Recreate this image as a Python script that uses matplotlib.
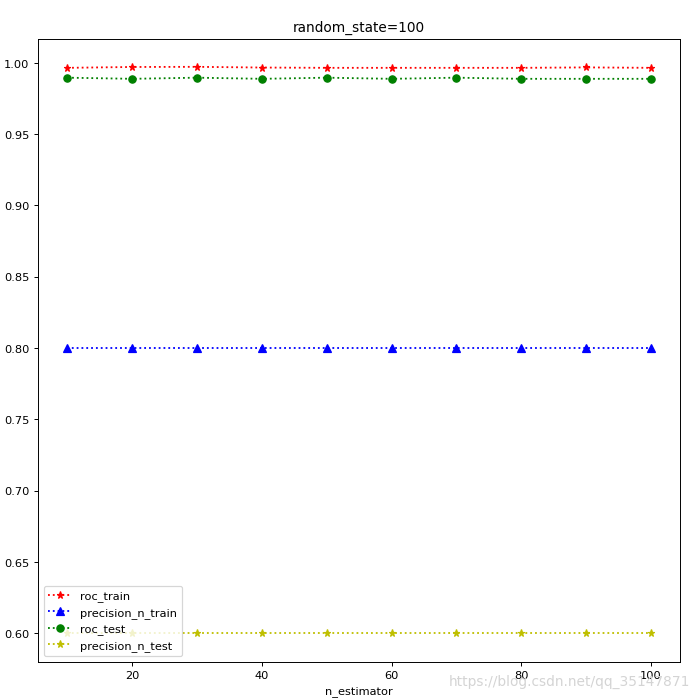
import matplotlib.pyplot as plt

n_estimator = [10, 20, 30, 40, 50, 60, 70, 80, 90, 100]
roc_train = [0.9963, 0.9969, 0.9970, 0.9965, 0.9963, 0.9963, 0.9963, 0.9963, 0.9966, 0.9963]
precision_n_train = [0.80, 0.80, 0.80, 0.80, 0.80, 0.80, 0.80, 0.80, 0.80, 0.80]
roc_test = [0.9894, 0.9886, 0.9894, 0.9886, 0.9894, 0.9886, 0.9894, 0.9886, 0.9886, 0.9886]
precision_n_test = [0.60, 0.60, 0.60, 0.60, 0.60, 0.60, 0.60, 0.60, 0.60, 0.60]

plt.rcParams['font.size'] = 9.4

# original was an 8x8 figure shrunk to ~700 px
fig = plt.figure(figsize=(8, 8.02), dpi=87.4)
plt.subplots_adjust(left=0.0544, right=0.9728, top=0.9437, bottom=0.0549)

plt.plot(n_estimator, roc_train, 'r*:', label='roc_train')
plt.plot(n_estimator, precision_n_train, 'b^:', label='precision_n_train')
plt.plot(n_estimator, roc_test, 'go:', label='roc_test')
plt.plot(n_estimator, precision_n_test, 'y*:', label='precision_n_test')

plt.title('random_state=100')
plt.xlabel('n_estimator', labelpad=4)
plt.legend(loc='lower left')

# watermark
fig.text(0.642, 0.022, 'https://blog.csdn.net/qq_35147871', color='#d4d4d4', fontsize=11.3)

plt.savefig('out.png')
